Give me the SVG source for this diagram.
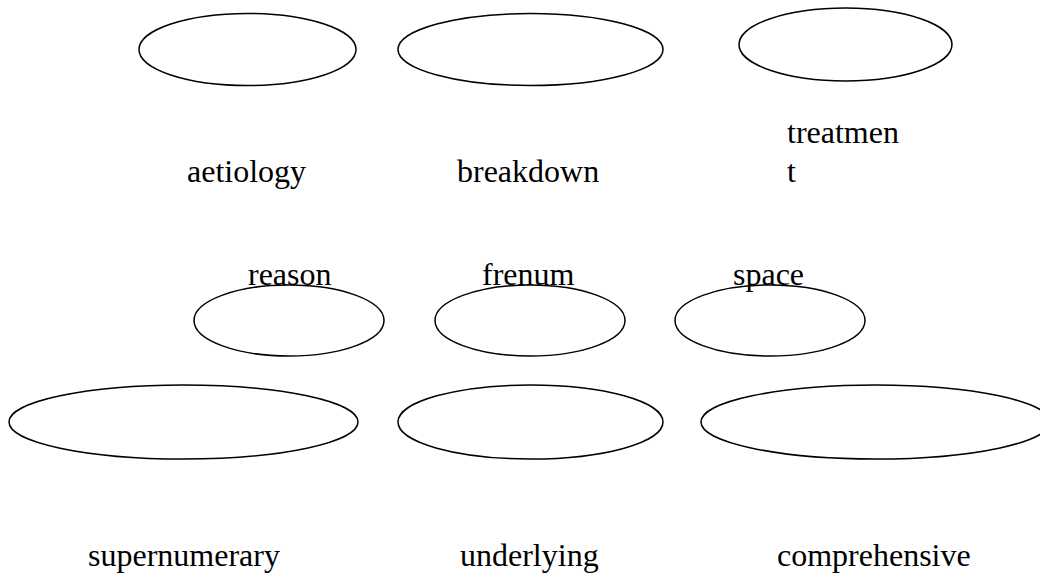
<svg xmlns="http://www.w3.org/2000/svg" width="1040" height="577" viewBox="0 0 1040 577">
<style>
ellipse { fill: #ffffff; stroke: #000000; stroke-width: 1.5; }
text { font-family: "Liberation Serif", "Times New Roman", serif; font-size: 32px; fill: #000000; }
</style>
<rect x="0" y="0" width="1040" height="577" fill="#ffffff"/>
<g id="connectors"></g>
<g id="node-aetiology">
<ellipse cx="247.5" cy="49.5" rx="108.5" ry="36"/>
<text x="187" y="182">aetiology</text>
</g>
<g id="node-breakdown">
<ellipse cx="530.5" cy="49.5" rx="132.5" ry="36"/>
<text x="457" y="182">breakdown</text>
</g>
<g id="node-treatment">
<ellipse cx="845.5" cy="44.5" rx="106.5" ry="36.5"/>
<text x="787" y="143">treatmen</text>
<text x="787" y="182">t</text>
</g>
<g id="node-reason">
<ellipse cx="289" cy="320.5" rx="95" ry="35.5"/>
<text x="248" y="285">reason</text>
</g>
<g id="node-frenum">
<ellipse cx="530" cy="320.5" rx="95" ry="35.5"/>
<text x="482" y="285">frenum</text>
</g>
<g id="node-space">
<ellipse cx="770" cy="320.5" rx="95" ry="35.5"/>
<text x="733" y="285">space</text>
</g>
<g id="node-supernumerary">
<ellipse cx="183.5" cy="422" rx="174.5" ry="37"/>
<text x="88" y="566">supernumerary</text>
</g>
<g id="node-underlying">
<ellipse cx="530.5" cy="422" rx="132.5" ry="37"/>
<text x="460" y="566">underlying</text>
</g>
<g id="node-comprehensive">
<ellipse cx="875.5" cy="422" rx="174.5" ry="37"/>
<text x="777" y="566">comprehensive</text>
</g>
</svg>
